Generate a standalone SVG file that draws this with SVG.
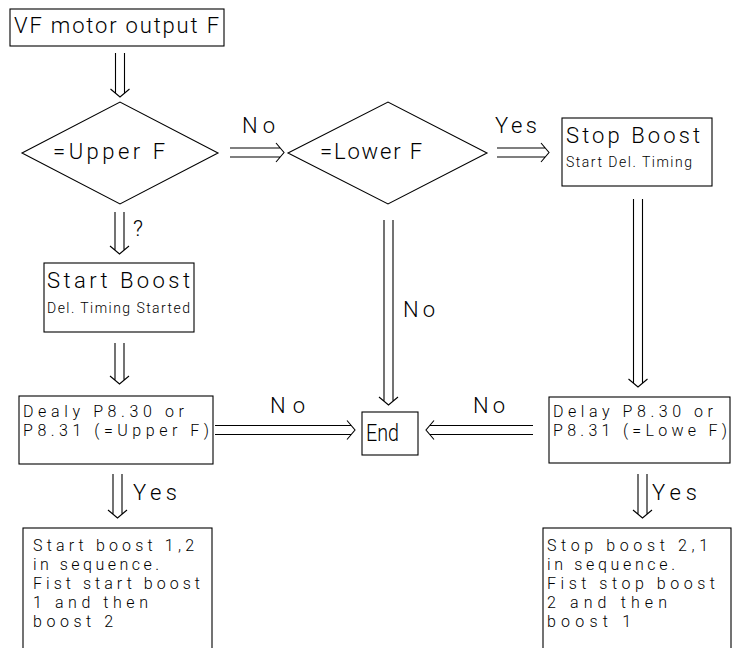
<svg xmlns="http://www.w3.org/2000/svg" width="739" height="648" viewBox="0 0 739 648">
<style>
.box{fill:#fff;stroke:#000;stroke-width:1.1}
.conn path{fill:none;stroke:#000;stroke-width:1.1}
text{font-family:"Roboto","Liberation Sans",Arial,sans-serif;font-weight:300;fill:#000}
.L{font-size:22px}
.S{font-size:14px}
.M{font-size:16px}
.B{font-size:16px}
</style>
<rect width="739" height="648" fill="#fff"/>
<g id="connectors" class="conn">
<path d="M115.5 53V93.2M124.5 53V93.2M110.5 89L120 97L129.5 89"/>
<path d="M230 148H280.2M230 157H280.2M276 143L284 152.5L276 162"/>
<path d="M497 148H545.2M497 157H545.2M541 143L549 152.5L541 162"/>
<path d="M115 212V250.2M124 212V250.2M110 246L119.5 254L129 246"/>
<path d="M115 343V380.2M124 343V380.2M110 376L119.5 384L129 376"/>
<path d="M384 220V401.2M393 220V401.2M379 397L388.5 405L398 397"/>
<path d="M633.5 199V383.2M642.5 199V383.2M628.5 379L638 387L647.5 379"/>
<path d="M215 425.5H351.2M215 434.5H351.2M347 420.5L355 430L347 439.5"/>
<path d="M533 425.5H429.8M533 434.5H429.8M434 420.5L426 430L434 439.5"/>
<path d="M113 474V514.2M122 474V514.2M108 510L117.5 518L127 510"/>
<path d="M638 474V514.2M647 474V514.2M633 510L642.5 518L652 510"/>
<text class="L" x="242" y="133" textLength="33">No</text>
<text class="L" x="495" y="133" textLength="42">Yes</text>
<text class="L" x="133" y="236">?</text>
<text class="L" x="403" y="317" textLength="32">No</text>
<text class="L" x="270" y="413" textLength="35">No</text>
<text class="L" x="473" y="413" textLength="32">No</text>
<text class="L" x="133" y="500" textLength="44">Yes</text>
<text class="L" x="652" y="500" textLength="45">Yes</text>
</g>
<g id="vf-output">
<rect class="box" x="10" y="9" width="214" height="37"/>
<text class="L" x="14" y="33" textLength="205">VF motor output F</text>
</g>
<g id="upper-f">
<polygon class="box" points="22,153 120,102 218,153 120,204"/>
<text class="L" x="53" y="159" textLength="112">=Upper F</text>
</g>
<g id="lower-f">
<polygon class="box" points="288,153 388,102 487,153 388,204"/>
<text class="L" x="320" y="159" textLength="102">=Lower F</text>
</g>
<g id="stop-boost">
<rect class="box" x="562" y="118" width="150" height="68"/>
<text class="L" x="566" y="143" textLength="134">Stop Boost</text>
<text class="S" x="566" y="167" textLength="126">Start Del. Timing</text>
</g>
<g id="start-boost">
<rect class="box" x="44" y="263" width="150" height="69"/>
<text class="L" x="47" y="288" textLength="143">Start Boost</text>
<text class="S" x="47" y="313" textLength="143">Del. Timing Started</text>
</g>
<g id="delay-upper">
<rect class="box" x="19" y="396" width="194" height="68"/>
<text class="M" x="23" y="417" textLength="161">Dealy P8.30 or</text>
<text class="M" x="23" y="436" textLength="186">P8.31 (=Upper F)</text>
</g>
<g id="end">
<rect class="box" x="362" y="412" width="56" height="43"/>
<text class="L" x="366" y="441" style="font-size:24px" textLength="33" lengthAdjust="spacingAndGlyphs">End</text>
</g>
<g id="delay-lower">
<rect class="box" x="549" y="397" width="181" height="66"/>
<text class="M" x="553" y="417" textLength="160">Delay P8.30 or</text>
<text class="M" x="553" y="436" textLength="174">P8.31 (=Lowe F)</text>
</g>
<g id="start-seq">
<rect class="box" x="23" y="528" width="189" height="130"/>
<text class="B" x="33" y="551" textLength="161">Start boost 1,2</text>
<text class="B" x="33" y="570" textLength="126">in sequence.</text>
<text class="B" x="33" y="589" textLength="167">Fist start boost</text>
<text class="B" x="33" y="608" textLength="115">1 and then</text>
<text class="B" x="33" y="627" textLength="80">boost 2</text>
</g>
<g id="stop-seq">
<rect class="box" x="543" y="528" width="188" height="130"/>
<text class="B" x="547" y="551" textLength="161">Stop boost 2,1</text>
<text class="B" x="547" y="570" textLength="128">in sequence.</text>
<text class="B" x="547" y="589" textLength="168">Fist stop boost</text>
<text class="B" x="547" y="608" textLength="120">2 and then</text>
<text class="B" x="547" y="627" textLength="84">boost 1</text>
</g>
</svg>
